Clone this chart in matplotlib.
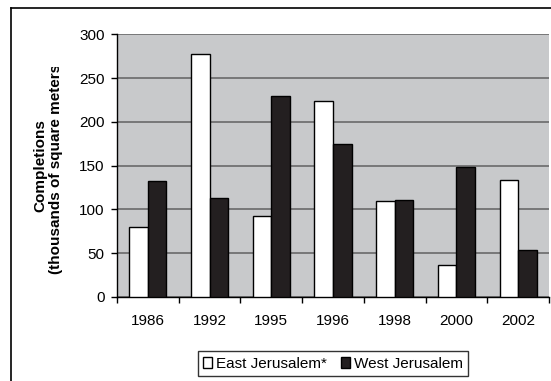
import matplotlib
matplotlib.use("Agg")
import matplotlib.pyplot as plt
from matplotlib.lines import Line2D
from matplotlib.transforms import Bbox
import numpy as np

plt.rcParams['font.family'] = ['Liberation Sans', 'DejaVu Sans']

years = ["1986", "1992", "1995", "1996", "1998", "2000", "2002"]
east = [80, 277, 93, 224, 110, 37, 134]
west = [133, 113, 230, 175, 111, 148, 54]
yticks = [0, 50, 100, 150, 200, 250, 300]

W, H = 551, 381
FS = 11
fig = plt.figure(figsize=(W / 100, H / 100), dpi=100)
fig.patch.set_facecolor('white')

ax = fig.add_axes([117 / W, 84 / H, 432 / W, 262.7 / H])
ax.set_facecolor('#C8C9CB')

x = np.arange(len(years))
bw = 0.3
ax.bar(x - bw / 2, east, width=bw, color='white', edgecolor='black', linewidth=1.0,
       label='East Jerusalem*', zorder=3)
ax.bar(x + bw / 2, west, width=bw, color='#231F20', edgecolor='black', linewidth=1.0,
       label='West Jerusalem', zorder=3)

ax.set_xlim(-0.5, len(years) - 0.5)
ax.set_ylim(0, 300)
ax.set_yticks(yticks)
ax.set_yticklabels([str(v) for v in yticks], fontsize=FS)
ax.yaxis.grid(True, color='#6A6A6A', linewidth=1.2, zorder=1)
ax.set_axisbelow(True)

ax.set_xticks(x)
ax.set_xticklabels(years, fontsize=FS)
ax.set_xticks(np.arange(-0.5, len(years)), minor=True)
ax.tick_params(axis='x', which='major', length=0, pad=12)
ax.tick_params(axis='x', which='minor', length=4, width=1, direction='out', color='black')
ax.tick_params(axis='y', length=4, width=1, direction='out', pad=5, color='black')

for s in ['top', 'right']:
    ax.spines[s].set_visible(False)
for s in ['left', 'bottom']:
    ax.spines[s].set_color('black')
    ax.spines[s].set_linewidth(1.0)

# y label (two lines, clipped at top as in the original)
clip = Bbox.from_extents(0, 0, W, H - 67)
t = fig.text(48 / W, (H - 166) / H,
             "Completions\n(thousands of square meters)",
             rotation=90, ha='center', va='center', fontsize=FS,
             fontweight='bold', multialignment='center', linespacing=1.15)
t.set_clip_box(clip)
t.set_clip_on(True)

leg = fig.legend(loc='center', bbox_to_anchor=(333 / W, (H - 363.5) / H), ncol=2,
                 frameon=True, fontsize=FS, handlelength=0.6, handleheight=0.7,
                 handletextpad=0.25, columnspacing=0.9, borderpad=0.35, fancybox=False)
leg.get_frame().set_edgecolor('black')
leg.get_frame().set_linewidth(1.0)

# outer chart border (left and top visible)
fig.add_artist(Line2D([11 / W, 11 / W], [0, (H - 8) / H], color='black', linewidth=1.2,
                      transform=fig.transFigure))
fig.add_artist(Line2D([11 / W, 1], [(H - 8) / H, (H - 8) / H], color='black', linewidth=1.2,
                      transform=fig.transFigure))

fig.savefig('out.png', dpi=100)
